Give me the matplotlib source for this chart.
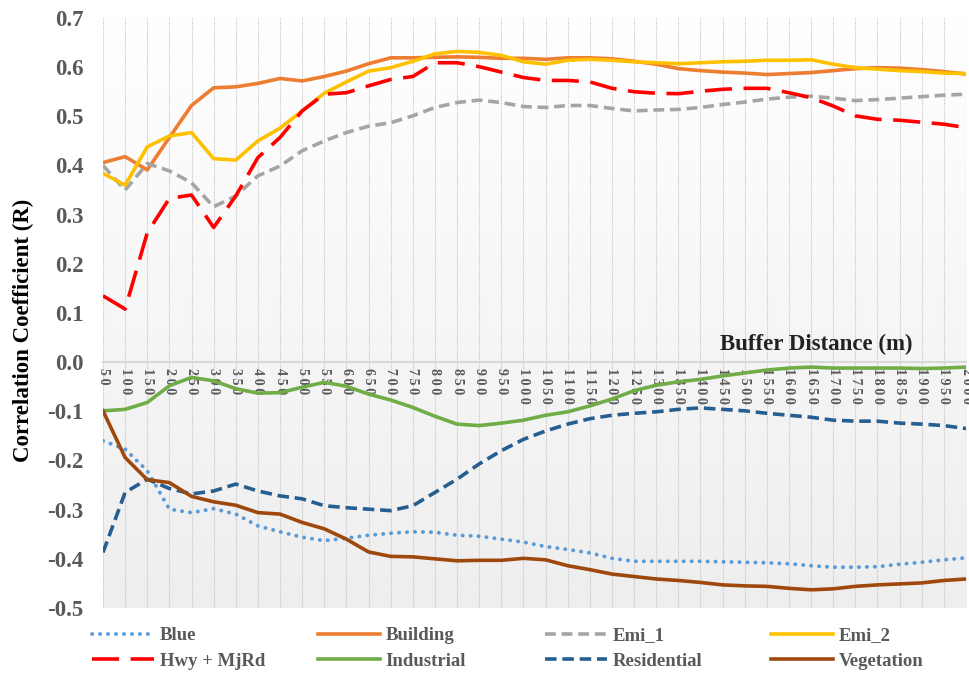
import numpy as np
import matplotlib
matplotlib.use('Agg')
from matplotlib import pyplot as plt
from matplotlib.colors import LinearSegmentedColormap

# buffer distances (m)
distances = list(range(50, 2001, 50))

blue = [-0.160, -0.177, -0.221, -0.299, -0.306, -0.298, -0.309, -0.333, -0.345, -0.356,
        -0.363, -0.358, -0.352, -0.348, -0.345, -0.346, -0.352, -0.354, -0.360, -0.366,
        -0.375, -0.381, -0.388, -0.399, -0.405, -0.405, -0.405, -0.405, -0.406, -0.407,
        -0.408, -0.410, -0.414, -0.417, -0.417, -0.416, -0.411, -0.407, -0.402, -0.398]
building = [0.406, 0.418, 0.391, 0.457, 0.522, 0.558, 0.560, 0.567, 0.577, 0.572,
            0.581, 0.592, 0.607, 0.619, 0.619, 0.620, 0.621, 0.620, 0.618, 0.618,
            0.616, 0.619, 0.619, 0.617, 0.612, 0.606, 0.597, 0.593, 0.590, 0.588,
            0.585, 0.587, 0.589, 0.593, 0.597, 0.599, 0.598, 0.595, 0.591, 0.586]
emi_1 = [0.400, 0.350, 0.404, 0.389, 0.365, 0.316, 0.338, 0.379, 0.399, 0.430,
         0.450, 0.467, 0.480, 0.487, 0.501, 0.518, 0.528, 0.533, 0.528, 0.520,
         0.518, 0.522, 0.522, 0.516, 0.511, 0.513, 0.514, 0.518, 0.524, 0.529,
         0.535, 0.539, 0.541, 0.537, 0.532, 0.534, 0.537, 0.540, 0.543, 0.545]
emi_2 = [0.384, 0.360, 0.438, 0.460, 0.467, 0.414, 0.411, 0.450, 0.476, 0.511,
         0.547, 0.570, 0.592, 0.599, 0.612, 0.627, 0.632, 0.630, 0.624, 0.611,
         0.606, 0.614, 0.616, 0.614, 0.611, 0.609, 0.607, 0.609, 0.611, 0.612,
         0.614, 0.614, 0.615, 0.606, 0.599, 0.596, 0.593, 0.591, 0.588, 0.587]
hwy_mjrd = [0.135, 0.108, 0.263, 0.333, 0.340, 0.274, 0.338, 0.416, 0.457, 0.511,
            0.545, 0.548, 0.562, 0.575, 0.581, 0.609, 0.609, 0.601, 0.590, 0.579,
            0.573, 0.573, 0.570, 0.557, 0.550, 0.547, 0.546, 0.551, 0.555, 0.557,
            0.557, 0.548, 0.538, 0.521, 0.501, 0.494, 0.492, 0.488, 0.484, 0.477]
industrial = [-0.099, -0.096, -0.082, -0.048, -0.031, -0.038, -0.054, -0.063, -0.062, -0.051,
              -0.041, -0.049, -0.065, -0.077, -0.092, -0.110, -0.126, -0.129, -0.124, -0.118,
              -0.108, -0.101, -0.089, -0.075, -0.058, -0.047, -0.040, -0.035, -0.028, -0.022,
              -0.016, -0.012, -0.010, -0.012, -0.012, -0.012, -0.012, -0.013, -0.012, -0.010]
residential = [-0.387, -0.265, -0.238, -0.257, -0.268, -0.262, -0.248, -0.262, -0.272, -0.278,
               -0.292, -0.296, -0.299, -0.302, -0.292, -0.265, -0.238, -0.207, -0.180, -0.157,
               -0.140, -0.126, -0.115, -0.108, -0.104, -0.101, -0.096, -0.093, -0.096, -0.099,
               -0.104, -0.108, -0.112, -0.118, -0.120, -0.120, -0.124, -0.126, -0.129, -0.135]
vegetation = [-0.099, -0.194, -0.239, -0.245, -0.273, -0.284, -0.291, -0.306, -0.309, -0.326,
              -0.339, -0.360, -0.386, -0.395, -0.396, -0.400, -0.404, -0.403, -0.403, -0.399,
              -0.402, -0.414, -0.422, -0.431, -0.436, -0.441, -0.444, -0.448, -0.453, -0.455,
              -0.456, -0.460, -0.463, -0.461, -0.456, -0.453, -0.451, -0.449, -0.444, -0.441]

y_ticks = [-0.5, -0.4, -0.3, -0.2, -0.1, 0.0, 0.1, 0.2, 0.3, 0.4, 0.5, 0.6, 0.7]

GRAY_TEXT = '#595959'
SERIF = ['Liberation Serif', 'DejaVu Serif']

plt.rcParams['font.family'] = SERIF
plt.rcParams['font.weight'] = 'bold'

fig = plt.figure(figsize=(9.69, 6.74), dpi=100)
ax = fig.add_axes([103 / 969, 1 - 608 / 674, (966 - 103) / 969, (608 - 18) / 674])

x = np.arange(len(distances))
x_min, x_max = 0, len(distances) - 1
y_min, y_max = -0.5, 0.7

# background gradient, white at the top to light gray at the bottom
grad_cmap = LinearSegmentedColormap.from_list('bg', ['#eeeeee', '#ffffff'])
ax.imshow(np.linspace(0, 1, 256).reshape(-1, 1), cmap=grad_cmap, aspect='auto',
          extent=(x_min, x_max, y_min, y_max), origin='lower', zorder=0,
          interpolation='bicubic')

# series: label, values, colour, dash pattern (None = solid)
series = [
    ('Blue', blue, '#5B9BD5', (0, (0.05, 2.0))),
    ('Building', building, '#ED7D31', None),
    ('Emi_1', emi_1, '#A5A5A5', (0, (3.0, 1.6))),
    ('Emi_2', emi_2, '#FFC000', None),
    ('Hwy + MjRd', hwy_mjrd, '#FF0000', (0, (7.5, 3.2))),
    ('Industrial', industrial, '#70AD47', None),
    ('Residential', residential, '#255E91', (0, (3.2, 1.6))),
    ('Vegetation', vegetation, '#9E480E', None),
]

handles = []
for label, values, color, dash in series:
    if dash is None:
        line, = ax.plot(x, values, color=color, lw=2.6, label=label, zorder=3,
                        solid_joinstyle='round')
    elif label == 'Blue':
        line, = ax.plot(x, values, color=color, lw=2.8, linestyle=dash, label=label,
                        dash_capstyle='round', zorder=3)
    else:
        line, = ax.plot(x, values, color=color, lw=2.6, linestyle=dash, label=label,
                        dash_capstyle='butt', zorder=3)
    handles.append(line)

ax.set_xlim(x_min, x_max)
ax.set_ylim(y_min, y_max)

# vertical dotted grid lines at each category
ax.set_xticks(x)
ax.grid(axis='x', color='#c4c4c4', linestyle=(0, (1, 1)), lw=0.8, zorder=1)
ax.set_axisbelow(True)

# category axis crosses at zero
for side in ['top', 'right', 'left']:
    ax.spines[side].set_visible(False)
ax.spines['bottom'].set_position(('data', 0))
ax.spines['bottom'].set_color('#d9d9d9')
ax.spines['bottom'].set_linewidth(1.5)
ax.spines['bottom'].set_zorder(2)

ax.set_xticklabels(['\u2009'.join(str(d)) for d in distances], rotation=-90,
                   fontsize=10, color=GRAY_TEXT, fontweight='bold', va='top')
ax.tick_params(axis='x', length=0, pad=4)

ax.set_yticks(y_ticks)
ax.set_yticklabels([f'{v:.1f}' for v in y_ticks], fontsize=16.5, color=GRAY_TEXT,
                   fontweight='bold')
ax.tick_params(axis='y', length=0, pad=14)

ax.set_ylabel('Correlation Coefficient (R)', fontsize=16.5, fontweight='bold',
              color='black')
ax.yaxis.set_label_coords(-0.080, 0.47)

ax.text(0.827, 0.446, 'Buffer Distance (m)', transform=ax.transAxes,
        ha='center', va='center', fontsize=16.5, fontweight='bold', color='#222222')

# legend laid out row by row, one small legend per column
col_left = [79, 305, 532, 758]
for c in range(4):
    leg = fig.legend(handles=[handles[c], handles[c + 4]], loc='upper left',
                     bbox_to_anchor=(col_left[c] / 969, 1 - 614 / 674),
                     frameon=False, fontsize=13.5, handlelength=3.3,
                     handletextpad=0.3, labelspacing=0.45, borderpad=0.2)
    for t in leg.get_texts():
        t.set_color(GRAY_TEXT)
        t.set_fontweight('bold')

fig.savefig('out.png', dpi=100)
